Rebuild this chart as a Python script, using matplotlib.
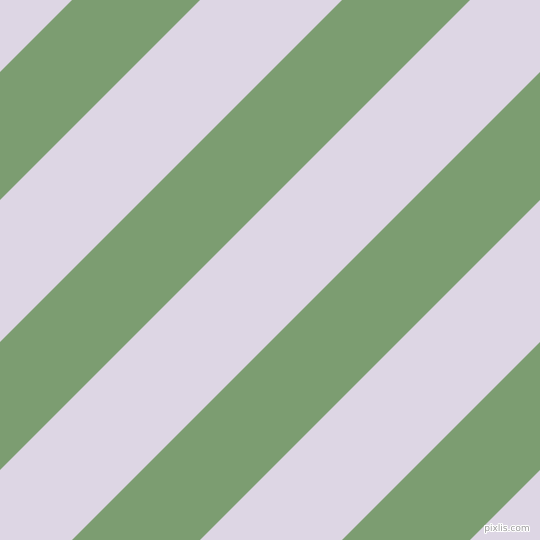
import matplotlib
matplotlib.use("Agg")
import matplotlib.pyplot as plt
import matplotlib.patheffects as pe
import numpy as np

# Diagonal stripe bands, expressed as offsets c of lines x + y = c (pixels)
stripe_starts = [72, 342, 612, 882]
stripe_ends = [200, 470, 740, 1010]
stripe_color = "#7C9D71"
background_color = "#DDD6E4"
watermark = "pixlis.com"

fig = plt.figure(figsize=(5.4, 5.4), dpi=100)
ax = fig.add_axes([0, 0, 1, 1])
ax.set_facecolor(background_color)
fig.patch.set_facecolor(background_color)

xs = np.array([-600.0, 1200.0])
for c0, c1 in zip(stripe_starts, stripe_ends):
    ax.fill_between(xs, c0 - xs, c1 - xs, color=stripe_color, linewidth=0)

ax.set_xlim(0, 540)
ax.set_ylim(540, 0)
ax.axis("off")

ax.text(530, 533, watermark, ha="right", va="bottom", fontsize=6.5,
        color="#9A9A9A",
        path_effects=[pe.withStroke(linewidth=1.5, foreground="white")])

fig.savefig("out.png", dpi=100, facecolor=background_color)
